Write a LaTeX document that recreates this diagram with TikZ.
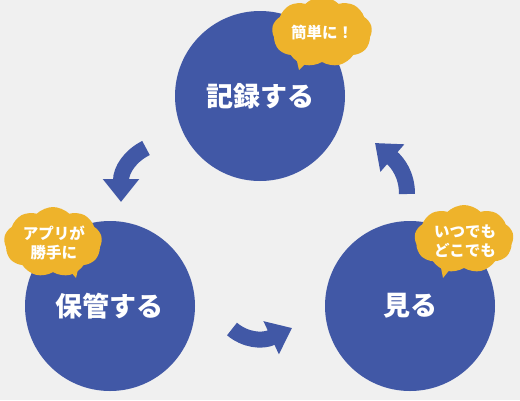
\documentclass[tikz,border=0pt]{standalone}
\usepackage{fontspec}
\newfontfamily\jp{Noto Sans CJK JP}
\usetikzlibrary{arrows.meta,shapes.symbols}
\definecolor{bg}{HTML}{F0F0F0}
\definecolor{cblue}{HTML}{4158A6}
\definecolor{cyel}{HTML}{EEB32B}
\tikzset{
  stage/.style={circle, fill=cblue, inner sep=0pt, minimum size=170pt, text=white,
    font=\jp\bfseries\fontsize{27}{30}\selectfont},
  puff/.style={cloud, cloud puffs=9, cloud puff arc=90, aspect=1.5, fill=cyel, inner sep=0pt},
  pufftext/.style={text=white, align=center, font=\jp\bfseries\fontsize{15.5}{19}\selectfont},
  tail/.style={fill=cyel},
  bigarrow/.style={draw=cblue, line width=16pt, -{Triangle[width=35pt,length=23pt]}, cblue}
}
\begin{document}
\begin{tikzpicture}[x=1pt,y=-1pt]
\fill[bg] (0,0) rectangle (520,400);
\useasboundingbox (0,0) rectangle (520,400);
% stages
\node[stage] (rec) at (260,96) {記録する};
\node[stage] (keep) at (110,306) {保管する};
\node[stage] (see) at (410,306) {見る};
% clouds
\node[puff, minimum width=100pt, minimum height=70pt] (c1) at (322,32) {};
\coordinate (c1t) at (299,70);
\fill[tail] (296,57) -- (312,57) -- (c1t) -- cycle;
\node[pufftext] (t1) at (322,33) {簡単に！};
\node[puff, minimum width=98pt, minimum height=70pt] (c2) at (53,242) {};
\coordinate (c2t) at (76,278);
\fill[tail] (65,265) -- (79,265) -- (c2t) -- cycle;
\node[pufftext] (t2) at (54,243) {アプリが\\勝手に};
\node[puff, minimum width=99pt, minimum height=68pt] (c3) at (464,239) {};
\coordinate (c3t) at (443,278);
\fill[tail] (440,263) -- (455,263) -- (c3t) -- cycle;
\node[pufftext] (t3) at (465,241) {いつでも\\どこでも};
% arrows
\coordinate (a1s) at (146,148);
\coordinate (a1e) at (121,202);
\draw[bigarrow] (a1s) .. controls (130,156) and (121,170) .. (a1e);
\coordinate (a2s) at (407,194);
\coordinate (a2e) at (375,143);
\draw[bigarrow] (a2s) .. controls (407,175) and (398,163) .. (a2e);
\coordinate (a3s) at (232,329);
\coordinate (a3e) at (292,328);
\draw[bigarrow] (a3s) .. controls (245,340) and (262,342) .. (a3e);
\end{tikzpicture}
\end{document}
